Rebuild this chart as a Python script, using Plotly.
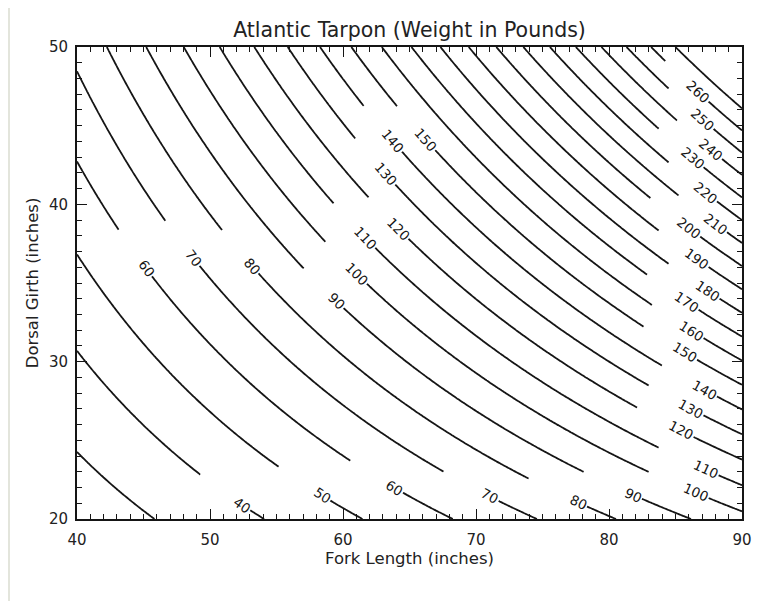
import math
import numpy as np
import plotly.graph_objects as go

# ---- weight model: W = k * L^a * G^b (pounds) ----
k_coef = 9.84e-4
a_len = 1.74
b_girth = 1.225

fork_length = np.linspace(40, 90, 251)      # inches
dorsal_girth = np.linspace(20, 50, 181)     # inches
level_start, level_end, level_step = 30, 270, 10

x_tick0, x_dtick = 40, 10
y_tick0, y_dtick = 20, 10

# ---- contour label gaps: level, fork length where gap starts / ends ----
mid_levels = [60, 70, 80, 90, 100, 110, 120, 130, 140, 150]
mid_gap_start = [43.13, 46.64, 50.90, 57.04, 58.67, 59.29, 61.92, 60.92, 61.55, 64.06]
mid_gap_end = [45.64, 49.22, 53.65, 60.05, 61.80, 62.43, 64.93, 63.93, 64.44, 66.94]

bottom_levels = [40, 50, 60, 70, 80, 90]
bottom_gap_start = [49.27, 55.16, 60.55, 67.56, 73.95, 78.09]
bottom_gap_end = [53.03, 59.05, 64.51, 71.70, 78.35, 82.48]

right_levels = [100, 110, 120, 130, 140, 150, 160, 170, 180, 190, 200, 210, 220, 230, 240, 250, 260]
right_gap_start = [82.98, 83.73, 82.11, 82.98, 83.98, 82.60, 83.23, 82.86, 84.48, 83.73,
                   83.11, 85.23, 84.48, 83.73, 85.11, 84.48, 84.23]
right_gap_end = [87.49, 88.24, 86.36, 87.11, 88.12, 86.62, 87.11, 86.74, 88.32, 87.49,
                 86.86, 88.87, 88.12, 87.11, 88.50, 87.86, 87.49]

# ---- layout geometry (page body adds an 8px offset) ----
W, H = 769, 593
ML, MR, MT, MB = 69, 35, 39, 82
PW, PH = W - ML - MR, H - MT - MB
XR, YR = (40, 90), (20, 50)
FONT = "DejaVu Sans"
INK = "#151515"

LL, GG = np.meshgrid(fork_length, dorsal_girth)
weight = k_coef * LL ** a_len * GG ** b_girth


def girth_on(level, L):
    return (level / (k_coef * L ** a_len)) ** (1.0 / b_girth)


def to_px(L, G):
    return ((L - XR[0]) / (XR[1] - XR[0]) * PW, (YR[1] - G) / (YR[1] - YR[0]) * PH)


def to_data(px, py):
    return (XR[0] + px / PW * (XR[1] - XR[0]), YR[1] - py / PH * (YR[1] - YR[0]))


fig = go.Figure()
fig.add_trace(go.Contour(
    x=fork_length, y=dorsal_girth, z=weight,
    contours=dict(start=level_start, end=level_end, size=level_step, coloring="lines"),
    line=dict(color=INK, width=1.8, smoothing=1),
    colorscale=[[0, INK], [1, INK]],
    showscale=False, hoverinfo="skip",
))

shapes = []
annotations = []
LABEL_SIZE = 13.5


def add_gap(level, l0, l1):
    g0, g1 = girth_on(level, l0), girth_on(level, l1)
    p0, p1 = to_px(l0, g0), to_px(l1, g1)
    dx, dy = p1[0] - p0[0], p1[1] - p0[1]
    n = math.hypot(dx, dy)
    ux, uy = dx / n, dy / n
    ang = math.degrees(math.atan2(dy, dx))
    shapes.append(dict(type="line", xref="x", yref="y", x0=l0, y0=g0, x1=l1, y1=g1,
                       line=dict(color="white", width=8), layer="above"))
    txt = str(level)
    half = len(txt) * 0.62 * LABEL_SIZE / 2 + 1.5
    cx, cy = p1[0] - ux * half, p1[1] - uy * half
    lx, ly = to_data(cx, cy)
    annotations.append(dict(x=lx, y=ly, xref="x", yref="y", text=txt, showarrow=False,
                            textangle=ang, xanchor="center", yanchor="middle",
                            font=dict(family=FONT, size=LABEL_SIZE, color=INK)))


for lv, a0, a1 in zip(mid_levels, mid_gap_start, mid_gap_end):
    add_gap(lv, a0, a1)
for lv, a0, a1 in zip(bottom_levels, bottom_gap_start, bottom_gap_end):
    add_gap(lv, a0, a1)
for lv, a0, a1 in zip(right_levels, right_gap_start, right_gap_end):
    add_gap(lv, a0, a1)


# page background: white panel on a grey frame
def fx(px):
    return (px - ML) / PW


def fy(py):
    return (H - MB - py) / PH


shapes.insert(0, dict(type="rect", xref="paper", yref="paper", x0=fx(2), x1=fx(761),
                      y0=fy(H + 5), y1=fy(-5), fillcolor="white", line=dict(width=0), layer="below"))

axis_common = dict(
    tickmode="linear",
    ticks="inside", ticklen=10, tickwidth=1.4, tickcolor=INK,
    showline=True, linecolor=INK, linewidth=1.7, mirror="allticks",
    showgrid=False, zeroline=False,
    tickfont=dict(family=FONT, size=15, color="#222"),
    minor=dict(ticks="inside", dtick=1, ticklen=5, tickwidth=1.2, tickcolor=INK, showgrid=False),
)

fig.update_layout(
    width=W, height=H, autosize=False,
    margin=dict(l=ML, r=MR, t=MT, b=MB, pad=0),
    paper_bgcolor="#e3e5dc", plot_bgcolor="white",
    title=dict(text="Atlantic Tarpon (Weight in Pounds)", x=0.5, xref="paper", xanchor="center",
               y=1 - 22 / H, yref="container", yanchor="middle",
               font=dict(family=FONT, size=20.5, color="#222")),
    xaxis=dict(range=list(XR), tick0=x_tick0, dtick=x_dtick, ticklabelstandoff=6,
               title=dict(text="Fork Length (inches)", standoff=4,
                          font=dict(family=FONT, size=16.5, color="#222")),
               **axis_common),
    yaxis=dict(range=list(YR), tick0=y_tick0, dtick=y_dtick, ticklabelstandoff=4,
               title=dict(text="Dorsal Girth (inches)", standoff=6,
                          font=dict(family=FONT, size=16.5, color="#222")),
               **axis_common),
    shapes=shapes,
    annotations=annotations,
    showlegend=False,
)

fig.write_html("out.html")
